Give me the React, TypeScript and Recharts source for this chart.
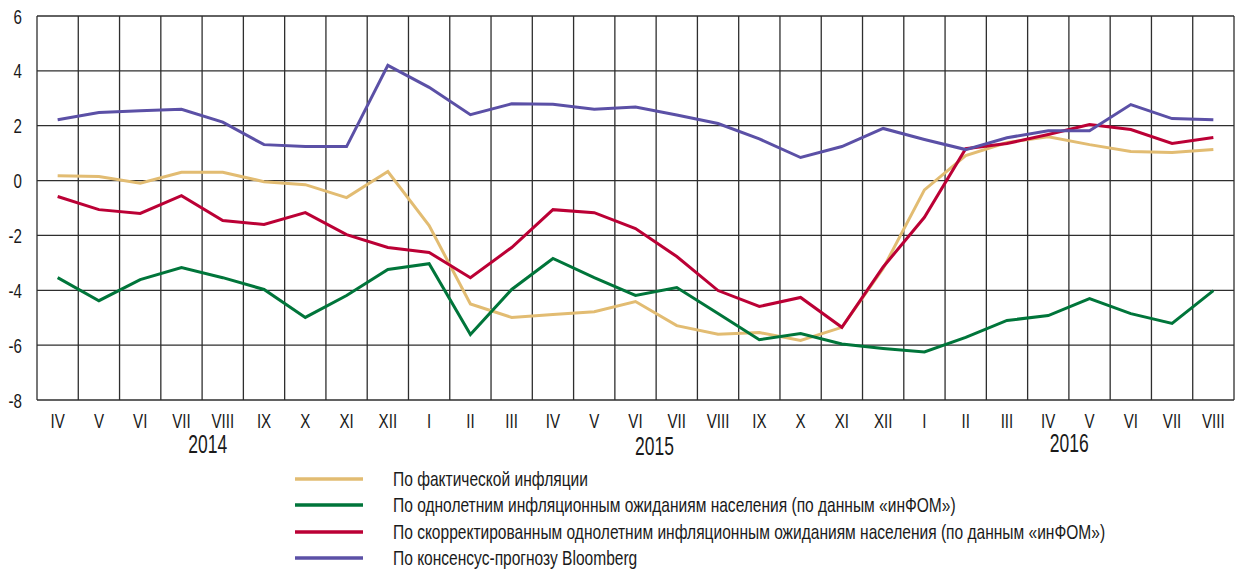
import { LineChart, Line, XAxis, YAxis, CartesianGrid } from "recharts";

const months = [
  "IV", "V", "VI", "VII", "VIII", "IX", "X", "XI", "XII",
  "I", "II", "III", "IV", "V", "VI", "VII", "VIII", "IX", "X", "XI", "XII",
  "I", "II", "III", "IV", "V", "VI", "VII", "VIII",
];

// фактическая инфляция
const actual = [
  0.18, 0.15, -0.1, 0.3, 0.3, -0.04, -0.15, -0.62, 0.33,
  -1.64, -4.5, -4.99, -4.88, -4.78, -4.41, -5.29, -5.6, -5.54, -5.83, -5.35, -3.2,
  -0.34, 0.91, 1.39, 1.6, 1.31, 1.06, 1.02, 1.13,
];

// однолетние ожидания населения (инФОМ)
const expectations = [
  -3.54, -4.38, -3.61, -3.17, -3.54, -3.97, -4.99, -4.19, -3.24,
  -3.03, -5.61, -3.97, -2.84, -3.54, -4.19, -3.9, -4.85, -5.8, -5.58, -5.96, -6.12,
  -6.25, -5.72, -5.1, -4.92, -4.3, -4.85, -5.21, -4.01,
];

// скорректированные ожидания
const corrected = [
  -0.58, -1.06, -1.2, -0.55, -1.46, -1.6, -1.17, -1.97, -2.44,
  -2.62, -3.54, -2.44, -1.06, -1.17, -1.75, -2.77, -4.01, -4.59, -4.26, -5.35, -3.15,
  -1.34, 1.16, 1.35, 1.68, 2.04, 1.86, 1.35, 1.57,
];

// консенсус-прогноз Bloomberg
const bloomberg = [
  2.22, 2.48, 2.55, 2.6, 2.13, 1.31, 1.24, 1.24, 4.2,
  3.4, 2.4, 2.8, 2.78, 2.6, 2.68, 2.39, 2.08, 1.52, 0.84, 1.24, 1.9,
  1.5, 1.13, 1.56, 1.82, 1.82, 2.77, 2.26, 2.22,
];

const yTicks = [-8, -6, -4, -2, 0, 2, 4, 6];

const years = ["2014", "2015", "2016"];
const yearTickIndex = [4, 14, 24];
const yearShift = [
  { dx: -15, dy: 40 },
  { dx: 19, dy: 42 },
  { dx: 21, dy: 39 },
];

const series = [
  { key: "actual", name: "По фактической инфляции", color: "#E2BC72" },
  { key: "expectations", name: "По однолетним инфляционным ожиданиям населения (по данным «инФОМ»)", color: "#00753A" },
  { key: "corrected", name: "По скорректированным однолетним инфляционным ожиданиям населения (по данным «инФОМ»)", color: "#BB0035" },
  { key: "bloomberg", name: "По консенсус-прогнозу Bloomberg", color: "#5B50A6" },
];

const data = months.map((m, i) => ({
  month: m,
  actual: actual[i],
  expectations: expectations[i],
  corrected: corrected[i],
  bloomberg: bloomberg[i],
}));

const FONT = '"Liberation Sans", Arial, sans-serif';
const NARROW = 0.72;

function MonthTick(props: any) {
  const { x, y, payload, index } = props;
  const yi = yearTickIndex.indexOf(index);
  return (
    <g>
      <text
        transform={`translate(${x},${y}) scale(${NARROW},1)`}
        dy="0.72em"
        textAnchor="middle"
        fill="#1a1a1a"
        fontSize={21}
        fontFamily={FONT}
      >
        {payload.value}
      </text>
      {yi >= 0 && (
        <text
          transform={`translate(${x + yearShift[yi].dx},${y + yearShift[yi].dy}) scale(0.7,1)`}
          textAnchor="middle"
          fill="#1a1a1a"
          fontSize={25}
          fontFamily={FONT}
        >
          {years[yi]}
        </text>
      )}
    </g>
  );
}

function ValueTick(props: any) {
  const { x, y, payload } = props;
  return (
    <text
      transform={`translate(${x},${y}) scale(${NARROW},1)`}
      dy="0.36em"
      textAnchor="end"
      fill="#1a1a1a"
      fontSize={21}
      fontFamily={FONT}
    >
      {payload.value}
    </text>
  );
}

export default function App() {
  return (
    <div style={{ position: "absolute", left: 0, top: 0, width: 1236, height: 572, background: "#fff", fontFamily: FONT }}>
      <LineChart width={1236} height={470} data={data} margin={{ top: 16, right: 2, left: 0, bottom: 0 }}>
        <CartesianGrid
          stroke="#2e2e2e"
          strokeWidth={1.3}
          verticalCoordinatesGenerator={({ offset }: any) =>
            Array.from({ length: months.length + 1 }, (_, i) => offset.left + (i * offset.width) / months.length)
          }
        />
        <XAxis
          dataKey="month"
          interval={0}
          axisLine={false}
          tickLine={false}
          tickSize={0}
          tickMargin={13}
          height={70}
          padding={{ left: 20.65, right: 20.65 }}
          tick={<MonthTick />}
        />
        <YAxis
          domain={[-8, 6]}
          ticks={yTicks}
          axisLine={false}
          tickLine={false}
          tickSize={0}
          tickMargin={15}
          width={37}
          tick={<ValueTick />}
        />
        {series.map((s) => (
          <Line
            key={s.key}
            type="linear"
            dataKey={s.key}
            name={s.name}
            stroke={s.color}
            strokeWidth={3}
            dot={false}
            isAnimationActive={false}
          />
        ))}
      </LineChart>
      <div style={{ position: "absolute", left: 295, top: 466 }}>
        {series.map((s) => (
          <div key={s.key} style={{ display: "flex", alignItems: "center", height: 26.3 }}>
            <svg width={68} height={4} style={{ display: "block", flex: "none" }}>
              <line x1={0} y1={2} x2={68} y2={2} stroke={s.color} strokeWidth={3.5} />
            </svg>
            <span
              style={{
                marginLeft: 30,
                fontSize: 21,
                color: "#1a1a1a",
                whiteSpace: "nowrap",
                display: "inline-block",
                transform: "scale(0.74,1)",
                transformOrigin: "left center",
              }}
            >
              {s.name}
            </span>
          </div>
        ))}
      </div>
    </div>
  );
}
